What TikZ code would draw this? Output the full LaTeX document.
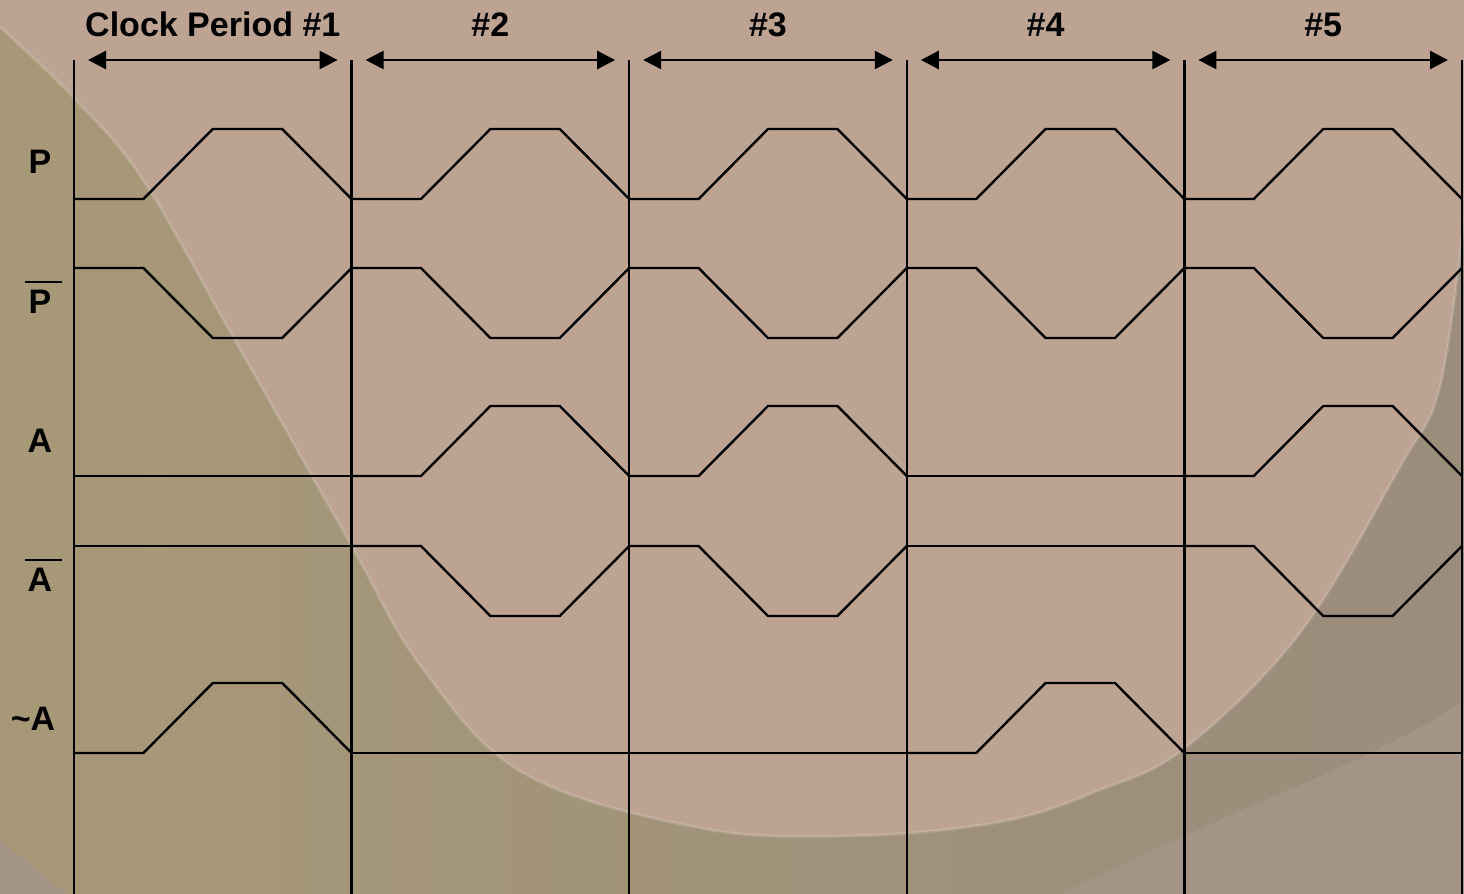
\documentclass[tikz,border=0pt]{standalone}
\usepackage{fontspec}
\setmainfont{Liberation Sans}
\usetikzlibrary{arrows.meta}
\definecolor{olivebg}{RGB}{167,153,119}
\definecolor{greybg}{RGB}{155,140,124}
\definecolor{pinkbg}{RGB}{189,163,146}
\definecolor{lightbg}{RGB}{164,148,134}
\tikzset{
  lbl/.style={font=\bfseries\fontsize{17}{20}\selectfont, inner sep=0pt},
  wave/.style={line width=1.2pt, line join=miter},
  span/.style={line width=1.2pt, {Triangle[length=9pt,width=9pt]}-{Triangle[length=9pt,width=9pt]}}
}
\begin{document}
\begin{tikzpicture}[x=0.5pt,y=-0.5pt]
        \def\xO{74}
        \def\T{277.6}
        \def\h{70}
        \useasboundingbox (0,0) rectangle (1464,894);
        % 背景
        \shade[left color=olivebg, right color=greybg] (0,0) rectangle (1464,894);
        \fill[pinkbg] plot[smooth, tension=0.6] coordinates {(0,27) (73,97) (143,180) (233,337) (350,543) (420,665) (523,773) (700,828) (850,836) (1000,822) (1100,790) (1185,748) (1300,633) (1400,467) (1440,387) (1464,220)} -- (1464,0) -- (0,0) -- cycle;
        \draw[white, opacity=0.15, line width=1.5pt] plot[smooth, tension=0.6] coordinates {(0,27) (73,97) (143,180) (233,337) (350,543) (420,665) (523,773) (700,828) (850,836) (1000,822) (1100,790) (1185,748) (1300,633) (1400,467) (1440,387) (1464,220)};
        \fill[lightbg] (1060,894) .. controls (1250,800) and (1380,760) .. (1464,700) -- (1464,894) -- cycle;
        \fill[lightbg] (0,840) .. controls (25,860) and (50,880) .. (67,894) -- (0,894) -- cycle;
        % 周期分隔线
        \foreach \k in {0,...,5}
            \draw[line width=1.2pt] ({\xO+\k*\T},60) -- ({\xO+\k*\T},894);
        % 周期标注
        \foreach \k/\txt in {0/Clock Period \#1, 1/\#2, 2/\#3, 3/\#4, 4/\#5} {
            \node[lbl, anchor=base] (per\k) at ({\xO+(\k+0.5)*\T},36) {\txt};
            \draw[span] ({\xO+\k*\T+14},60) -- ({\xO+(\k+1)*\T-14},60);
        }
        % 信号名
        \node[lbl, anchor=base] (sigP) at (40,173) {P};
        \node[lbl, anchor=base] (sigPn) at (40,313) {P};
        \node[lbl, anchor=base] (sigA) at (40,452) {A};
        \node[lbl, anchor=base] (sigAn) at (40,591) {A};
        \node[lbl, anchor=base] (sigAt) at (33,730) {\char`\~A};
        \draw[line width=1.2pt] (25,282) -- (62,282);
        \draw[line width=1.2pt] (25,560) -- (62,560);
        % 波形
        \foreach \yb/\d/\bits in {199/1/{1,1,1,1,1}, 268/-1/{1,1,1,1,1}, 476/1/{0,1,1,0,1}, 546/-1/{0,1,1,0,1}, 753/1/{1,0,0,1,0}} {
            \foreach \b [count=\k from 0] in \bits
                \draw[wave] ({\xO+\k*\T},\yb) -- ++(0.25*\T,0) -- ++(0.25*\T,{-\h*\d*\b}) -- ++(0.25*\T,0) -- ++(0.25*\T,{\h*\d*\b});
        }
    \end{tikzpicture}
\end{document}
